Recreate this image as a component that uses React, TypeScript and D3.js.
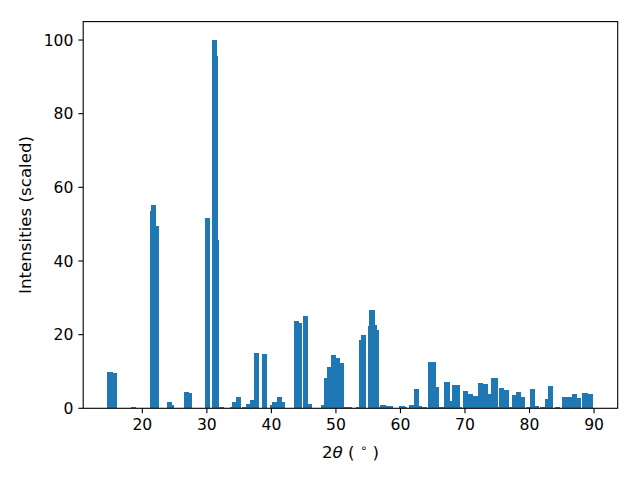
import React from "react";
import * as d3 from "d3";

const twoTheta: number[] = [
  15.0, 15.6, 18.6, 21.58, 21.78, 22.18, 24.2, 24.5, 26.84, 27.28,
  30.09, 31.18, 31.3, 31.46, 32.3, 34.0, 34.3, 34.86, 35.8, 36.5,
  37.1, 37.7, 38.9, 40.25, 40.46, 41.2, 41.66, 41.97, 43.86, 44.29,
  45.3, 45.84, 48.03, 48.5, 48.96, 49.58, 50.2, 50.79, 51.4, 52.03,
  53.45, 53.9, 54.3, 55.3, 55.6, 55.89, 56.2, 56.5, 57.29, 57.9,
  58.37, 59.94, 60.23, 60.54, 61.3, 61.8, 62.55, 63.0, 63.78, 64.74,
  65.18, 65.64, 66.41, 67.21, 67.65, 68.45, 68.9, 69.2, 70.05, 70.9,
  71.65, 72.45, 73.22, 73.69, 74.49, 74.77, 75.2, 75.72, 76.47, 76.93,
  77.7, 78.35, 78.9, 79.8, 80.5, 81.1, 81.5, 82.04, 82.8, 83.3,
  83.8, 84.4, 85.45, 86.2, 87.0, 87.6, 88.6, 89.5,
];

const intensity: number[] = [
  9.9, 9.6, 0.4, 53.6, 55.2, 49.5, 1.7, 0.9, 4.4, 4.15,
  51.7, 100, 95.7, 45.6, 0.3, 0.3, 1.7, 3.0, 0.4, 1.2,
  2.3, 15.1, 14.8, 0.9, 1.7, 3.0, 1.7, 0.2, 23.7, 23.2,
  25.1, 1.2, 0.9, 8.3, 11.3, 14.5, 13.7, 12.3, 0.4, 0.4,
  0.4, 18.6, 19.9, 22.3, 26.7, 22.6, 21.2, 0.4, 0.9, 0.6,
  0.6, 0.2, 0.6, 0.4, 0.2, 0.9, 5.2, 0.6, 0.4, 12.6,
  12.6, 5.8, 0.4, 7.2, 2.0, 6.2, 6.4, 0.4, 4.8, 3.9,
  3.4, 6.9, 6.6, 3.9, 8.3, 8.3, 0.4, 5.5, 5.0, 0.4,
  3.6, 4.4, 3.1, 0.4, 5.2, 0.6, 0.2, 0.4, 2.5, 6.1,
  0.2, 0.4, 3.1, 3.1, 3.9, 2.9, 4.1, 3.9,
];

const xTicks: number[] = [20, 30, 40, 50, 60, 70, 80, 90];
const yTicks: number[] = [0, 20, 40, 60, 80, 100];

const BAR_WIDTH = 0.8;
const W = 640;
const H = 480;
const margin = { left: 83.2, right: 22.3, top: 21.6, bottom: 71.7 };
const FONT = "'DejaVu Sans', sans-serif";
const BLUE = "#1f77b4";

export default function App() {
  const lo = d3.min(twoTheta)! - BAR_WIDTH / 2;
  const hi = d3.max(twoTheta)! + BAR_WIDTH / 2;
  const pad = (hi - lo) * 0.05;
  const yMax = d3.max(intensity)! * 1.05;

  const x = d3
    .scaleLinear()
    .domain([lo - pad, hi + pad])
    .range([margin.left, W - margin.right]);
  const y = d3
    .scaleLinear()
    .domain([0, yMax])
    .range([H - margin.bottom, margin.top]);

  const x0 = margin.left;
  const x1 = W - margin.right;
  const y0 = H - margin.bottom;
  const y1 = margin.top;
  const tickLen = 4.86;

  const bars = twoTheta.map((t, i) => ({ t, v: intensity[i] }));

  return (
    <svg
      width={W}
      height={H}
      style={{ position: "absolute", left: 0, top: 0, background: "#fff" }}
      fontFamily={FONT}
    >
      <rect x={0} y={0} width={W} height={H} fill="#fff" />
      <g>
        {bars.map((b, i) => {
          const left = x(b.t - BAR_WIDTH / 2);
          const right = x(b.t + BAR_WIDTH / 2);
          return (
            <rect
              key={i}
              x={left}
              width={right - left}
              y={y(b.v)}
              height={y(0) - y(b.v)}
              fill={BLUE}
              shapeRendering="crispEdges"
            />
          );
        })}
      </g>
      <rect
        x={x0}
        y={y1}
        width={x1 - x0}
        height={y0 - y1}
        fill="none"
        stroke="#000"
        strokeWidth={1.1}
      />
      {xTicks.map((t) => (
        <g key={"x" + t}>
          <line x1={x(t)} x2={x(t)} y1={y0} y2={y0 + tickLen} stroke="#000" strokeWidth={1.1} />
          <text
            x={x(t)}
            y={y0 + tickLen + 4.9 + 11.6}
            textAnchor="middle"
            fontSize={15.6}
            fill="#000"
          >
            {t}
          </text>
        </g>
      ))}
      {yTicks.map((t) => (
        <g key={"y" + t}>
          <line x1={x0 - tickLen} x2={x0} y1={y(t)} y2={y(t)} stroke="#000" strokeWidth={1.1} />
          <text
            x={x0 - tickLen - 4.9}
            y={y(t)}
            dy="0.36em"
            textAnchor="end"
            fontSize={15.6}
            fill="#000"
          >
            {t}
          </text>
        </g>
      ))}
      <text
        x={(x0 + x1) / 2}
        y={458}
        textAnchor="middle"
        fontSize={16.67}
        fill="#000"
        style={{ whiteSpace: "pre" }}
      >
        <tspan>2</tspan>
        <tspan fontStyle="italic">θ</tspan>
        <tspan> ( </tspan>
        <tspan fontSize={11.5} dy={-6}>∘</tspan>
        <tspan dy={6}> )</tspan>
      </text>
      <text
        transform={`translate(31, ${(y0 + y1) / 2}) rotate(-90)`}
        textAnchor="middle"
        fontSize={16.67}
        fill="#000"
      >
        Intensities (scaled)
      </text>
    </svg>
  );
}
